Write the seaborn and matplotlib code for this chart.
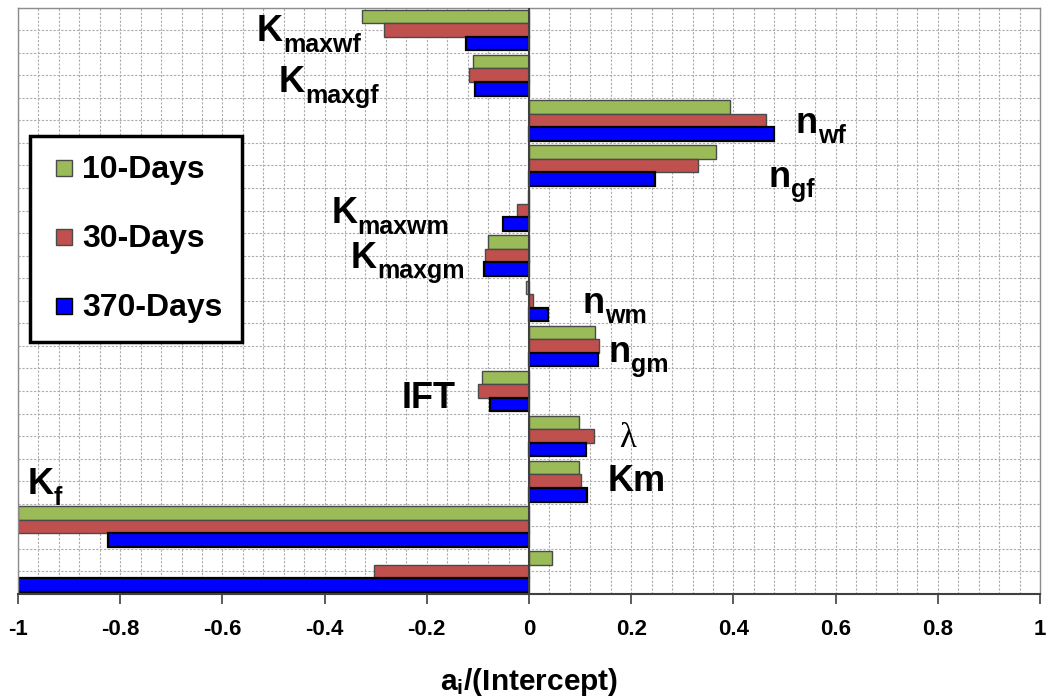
import numpy as np
import pandas as pd
import matplotlib
matplotlib.use("Agg")
import matplotlib.pyplot as plt
import seaborn as sns
from matplotlib.lines import Line2D
from matplotlib.ticker import MultipleLocator, FuncFormatter
from matplotlib.font_manager import FontProperties

# ---------------- data ----------------
params = ["Kmaxwf", "Kmaxgf", "nwf", "ngf", "Kmaxwm", "Kmaxgm", "nwm", "ngm",
          "IFT", "lambda", "Km", "Kf", "other"]
series = ["10-Days", "30-Days", "370-Days"]
d10 = [-0.327, -0.109, 0.394, 0.365, -0.002, -0.080, -0.005, 0.129, -0.091, 0.097, 0.097, -1.0, 0.045]
d30 = [-0.284, -0.118, 0.463, 0.330, -0.024, -0.087, 0.008, 0.137, -0.099, 0.128, 0.101, -1.0, -0.304]
d370 = [-0.124, -0.106, 0.480, 0.246, -0.051, -0.089, 0.037, 0.135, -0.077, 0.111, 0.114, -0.824, -1.0]
colors = ["#9BBB59", "#C0504D", "#0000FF"]
edges = ["#4a4a4a", "#4a4a4a", "#000000"]

df = pd.DataFrame({
    "param": params * 3,
    "value": d10 + d30 + d370,
    "series": [s for s in series for _ in params],
})

plt.rcParams["font.family"] = ["Liberation Sans", "DejaVu Sans"]
plt.rcParams["mathtext.fontset"] = "custom"
plt.rcParams["mathtext.rm"] = "Liberation Sans:bold"
plt.rcParams["mathtext.it"] = "Liberation Sans:bold"
plt.rcParams["mathtext.bf"] = "Liberation Sans:bold"

fig = plt.figure(figsize=(10.47, 7.0), dpi=100)
ax = fig.add_axes([0.01719, 0.15143, 0.97612, 0.83771])

sns.barplot(data=df, x="value", y="param", hue="series", orient="h",
            order=params, hue_order=series, palette=colors, saturation=1,
            width=0.9, gap=0, errorbar=None, legend=False, ax=ax)

for cont, ec in zip(ax.containers, edges):
    for bar in cont:
        bar.set_edgecolor(ec)
        bar.set_linewidth(1.6 if ec == "#000000" else 1.0)

ax.set_xlim(-1, 1)
ax.set_ylim(12.5, -0.5)

# grid
ax.set_xticks(np.arange(-1, 1.001, 0.2))
ax.xaxis.set_minor_locator(MultipleLocator(0.04))
ax.yaxis.set_major_locator(MultipleLocator(1))
ax.yaxis.set_minor_locator(MultipleLocator(0.5))
ax.set_axisbelow(True)
ax.grid(True, which="both", axis="both", color="#ababab", linestyle=(0, (2, 1.5)), linewidth=0.8)
ax.axvline(0, color="#404040", linewidth=1.5, zorder=5)

ax.xaxis.set_major_formatter(FuncFormatter(lambda v, p: f"{round(v, 2):g}" if abs(v) > 1e-9 else "0"))
ax.tick_params(axis="x", which="major", direction="out", length=7, width=1.2, color="#404040", pad=11)
ax.tick_params(axis="x", which="minor", length=0)
ax.tick_params(axis="y", which="both", length=0, labelleft=False)
for lbl in ax.get_xticklabels():
    lbl.set_fontsize(16)
    lbl.set_fontweight("bold")
ax.set_ylabel("")
ax.set_xlabel(r"a$_{\mathrm{i}}$/(Intercept)", fontsize=21.5, fontweight="bold", labelpad=19)

for side in ["top", "right", "left"]:
    ax.spines[side].set_color("#8c8c8c")
    ax.spines[side].set_linewidth(1.0)
ax.spines["bottom"].set_color("#404040")
ax.spines["bottom"].set_linewidth(1.5)


# ---------------- parameter labels ----------------
def lab(x, y, main, sub=None, size=26, subsize=18):
    t = ax.text(x, y, main, fontsize=size, fontweight="bold", ha="left", va="baseline", zorder=6)
    if sub:
        ax.annotate(sub, xy=(1, 0), xycoords=t, xytext=(0.3, -1.8), textcoords="offset points",
                    fontsize=subsize, fontweight="bold", ha="left", va="baseline", zorder=6)


lab(-0.533, 0.247, "K", "maxwf")
lab(-0.489, 1.378, "K", "maxgf")
lab(0.521, 2.276, "n", "wf")
lab(0.468, 3.469, "n", "gf")
lab(-0.387, 4.276, "K", "maxwm")
lab(-0.349, 5.269, "K", "maxgm")
lab(0.105, 6.267, "n", "wm")
lab(0.155, 7.347, "n", "gm")
lab(-0.249, 8.378, "IFT")
ax.text(0.176, 9.241, "λ", fontsize=25, family=["Liberation Serif", "DejaVu Serif"],
        ha="left", va="baseline", zorder=6)
lab(0.154, 10.225, "Km")
lab(-0.981, 10.285, "K", "f", subsize=18)

# ---------------- legend ----------------
handles = [Line2D([], [], linestyle="none", marker="s", markersize=11.5,
                  markerfacecolor=c, markeredgecolor=e, markeredgewidth=1.0)
           for c, e in zip(colors, edges)]
leg = ax.legend(handles, series, loc="upper left", bbox_to_anchor=(0.0117, 0.781),
                borderaxespad=0, prop=FontProperties(family="Liberation Sans", weight="bold", size=23),
                handlelength=0.95, handleheight=0.5, handletextpad=0.08, labelspacing=1.22,
                borderpad=0.6, frameon=True, fancybox=False, framealpha=1)
leg.get_frame().set_edgecolor("black")
leg.get_frame().set_linewidth(2.5)
leg.set_zorder(10)

fig.savefig("out.png", dpi=100)
